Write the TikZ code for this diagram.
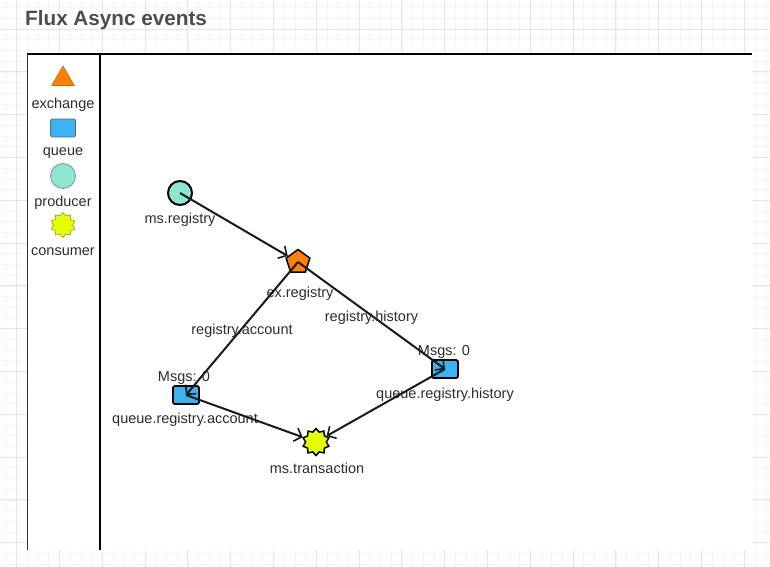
\documentclass[tikz,border=0pt]{standalone}
\usepackage{fontspec}
\setmainfont{Liberation Sans}
\usetikzlibrary{shapes.geometric,arrows.meta}
\definecolor{exorange}{RGB}{255,128,0}
\definecolor{exorangedk}{RGB}{205,100,10}
\definecolor{qblue}{RGB}{58,180,240}
\definecolor{qbluedk}{RGB}{70,110,140}
\definecolor{prodteal}{RGB}{140,230,210}
\definecolor{prodtealdk}{RGB}{120,150,145}
\definecolor{conslime}{RGB}{228,255,0}
\definecolor{conslimedk}{RGB}{150,170,20}
\definecolor{txtgray}{RGB}{45,45,45}
\definecolor{titlegray}{RGB}{77,77,77}
\tikzset{
  lbl/.style={text=txtgray,font=\fontsize{14.5}{16}\selectfont,inner sep=0pt,yshift=-2.5pt},
  exshape/.style={regular polygon,regular polygon sides=5,minimum size=25pt,inner sep=0pt,fill=exorange,draw=black,line width=1.5pt},
  qshape/.style={rectangle,rounded corners=2pt,minimum width=26pt,minimum height=18pt,inner sep=0pt,fill=qblue,draw=black,line width=1.8pt},
  prodshape/.style={circle,minimum size=24pt,inner sep=0pt,fill=prodteal,draw=black,line width=2pt},
  consshape/.style={star,star points=10,star point ratio=1.3,minimum size=27pt,inner sep=0pt,fill=conslime,draw=black,line width=1.5pt},
  edge/.style={draw=black!90,line width=2pt,-{Straight Barb[length=6.5pt,width=14pt,line width=1.6pt]}},
}
\begin{document}
\begin{tikzpicture}[x=1pt,y=-1pt]
\useasboundingbox (0,0) rectangle (770,566);
\fill[white] (0,0) rectangle (770,566);
% background grid
\begin{scope}[shift={(16.6,29)}]
\draw[gray!8,line width=0.6pt] (-16.6,-29) grid[step=10.7pt] (760,540);
\draw[gray!20,line width=0.8pt] (-16.6,-29) grid[step=42.8pt] (760,540);
\end{scope}
% title
\node[anchor=west,text=titlegray,font=\bfseries\fontsize{20.7}{22}\selectfont,inner sep=0pt] (title) at (25,20) {Flux Async events};
% panel
\fill[white] (27,54) rectangle (752,550);
\draw[black,line width=1.5pt] (27,54) -- (752,54);
\draw[black!80,line width=1pt] (27,54) -- (27,550);
\draw[black,line width=2pt] (100,54) -- (100,550);
% legend
\node[regular polygon,regular polygon sides=3,minimum size=26pt,inner sep=0pt,fill=exorange,draw=exorangedk,line width=0.6pt] (lgex) at (63,79) {};
\node[lbl] (lgexl) at (63,102) {exchange};
\node[rectangle,rounded corners=2pt,minimum width=25pt,minimum height=18pt,inner sep=0pt,fill=qblue,draw=qbluedk,line width=0.8pt] (lgq) at (63,128) {};
\node[lbl] (lgql) at (63,151) {queue};
\node[circle,minimum size=25pt,inner sep=0pt,fill=prodteal,draw=prodtealdk,line width=0.8pt] (lgp) at (63,176) {};
\node[lbl] (lgpl) at (63,200) {producer};
\node[star,star points=10,star point ratio=1.3,minimum size=25pt,inner sep=0pt,fill=conslime,draw=conslimedk,line width=0.7pt] (lgc) at (63,225) {};
\node[lbl] (lgcl) at (63,249) {consumer};
% graph nodes
\node[prodshape] (msreg) at (180,193) {};
\node[lbl] (msregl) at (180,217) {ms.registry};
\node[exshape] (exreg) at (298,262) {};
\node[lbl] (exregl) at (300,291) {ex.registry};
\node[qshape] (qacc) at (186,395) {};
\node[lbl] (qaccm) at (184,375) {Msgs: 0};
\node[lbl] (qaccl) at (185,417) {queue.registry.account};
\node[qshape] (qhist) at (445,369) {};
\node[lbl] (qhistm) at (444,349) {Msgs: 0};
\node[lbl] (qhistl) at (445,392) {queue.registry.history};
\node[consshape] (mstr) at (316,442) {};
\node[lbl] (mstrl) at (317,466) {ms.transaction};
% edges
\draw[edge] (msreg.center) -- (exreg);
\draw[edge] (exreg.center) -- node[lbl,pos=0.5] (lab1) {registry.account} (qacc.center);
\draw[edge] (exreg.center) -- node[lbl,pos=0.5] (lab2) {registry.history} (qhist.center);
\draw[edge] (qacc.center) -- (mstr);
\draw[edge] (qhist.center) -- (mstr);
\end{tikzpicture}
\end{document}
